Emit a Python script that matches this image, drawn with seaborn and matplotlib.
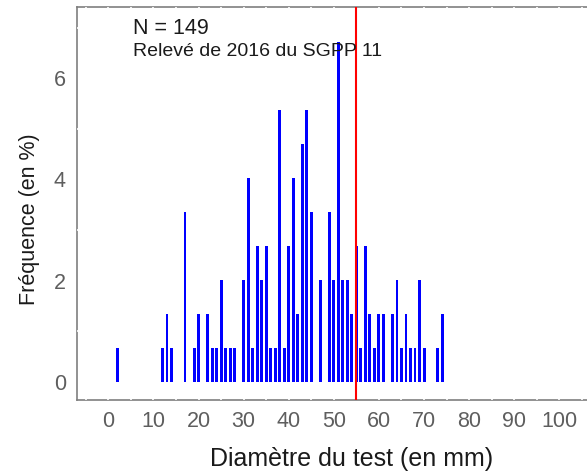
import numpy as np
import pandas as pd
import matplotlib
matplotlib.use("Agg")
import matplotlib.pyplot as plt
import seaborn as sns


# Test diameter counts (one bar per mm)
n_total = 149
diameters = [2, 12, 13, 14, 17, 19, 20, 22, 23, 24, 25, 26, 27, 28,
             30, 31, 32, 33, 34, 35, 36, 37, 38, 39, 40, 41, 42, 43, 44, 45,
             47, 49, 50, 51, 52, 53, 54, 55, 56, 57, 58, 59, 60, 61,
             63, 64, 65, 66, 67, 68, 69, 70, 73, 74]
counts = [1, 1, 2, 1, 5, 1, 2, 2, 1, 1, 3, 1, 1, 1,
          3, 6, 1, 4, 3, 4, 1, 1, 8, 1, 4, 6, 2, 7, 8, 5,
          3, 5, 3, 10, 3, 3, 2, 4, 1, 4, 2, 1, 2, 2,
          2, 3, 1, 2, 1, 1, 3, 1, 1, 2]
ref_line = 55
x_ticks = list(range(0, 101, 10))
y_ticks = [0, 2, 4, 6]

df = pd.DataFrame({"diam": diameters,
                   "freq": np.array(counts) / n_total * 100})

sns.set_style("white")
plt.rcParams['font.family'] = ['Liberation Sans', 'DejaVu Sans']

fig = plt.figure(figsize=(5.87, 4.74), dpi=100)
# panel runs off the right edge like in the original crop
ax = fig.add_axes([77 / 587, 74 / 474, (627 - 77) / 587, 393 / 474])

sns.barplot(data=df, x="diam", y="freq", native_scale=True, width=0.65,
            color="#0000FF", saturation=1, linewidth=0, errorbar=None,
            ax=ax, zorder=3)
ax.axvline(ref_line, color="#FF0000", lw=1.5, zorder=4)

ax.set_xlim(-6.95, 115)
ax.set_ylim(-0.36, 7.41)
ax.set_xticks(x_ticks)
ax.set_yticks(y_ticks)

# white grid lines cut small gaps in the frame
for v in np.arange(-5, 116, 5):
    ax.axvline(v, color="white", lw=1.2, zorder=2.6)
for v in [1, 3, 5, 7]:
    ax.axhline(v, color="white", lw=1.2, zorder=2.6)

for side in ["left", "bottom", "top"]:
    ax.spines[side].set_color("#7F7F7F")
    ax.spines[side].set_linewidth(1.2)
ax.spines["right"].set_visible(False)

ax.tick_params(length=5, width=1.2, color="#7F7F7F", labelcolor="#5E5E5E",
               labelsize=15.5, direction="out", pad=3)
ax.set_xlabel("Diamètre du test (en mm)", fontsize=18, color="#1A1A1A", va="center")
ax.xaxis.set_label_coords(0.5, (15 - 74) / 393)
ax.set_ylabel("Fréquence (en %)", fontsize=15.5, color="#1A1A1A", va="center", ha="center")
ax.yaxis.set_label_coords((30 - 77) / 550, (255 - 74) / 393)

fig.text(133 / 587, 1 - 29 / 474, "N = 149", fontsize=15.5, va="center", color="#1A1A1A")
fig.text(133 / 587, 1 - 51 / 474, "Relevé de 2016 du SGPP 11", fontsize=14,
         va="center", color="#1A1A1A")

fig.savefig("out.png", dpi=100)
